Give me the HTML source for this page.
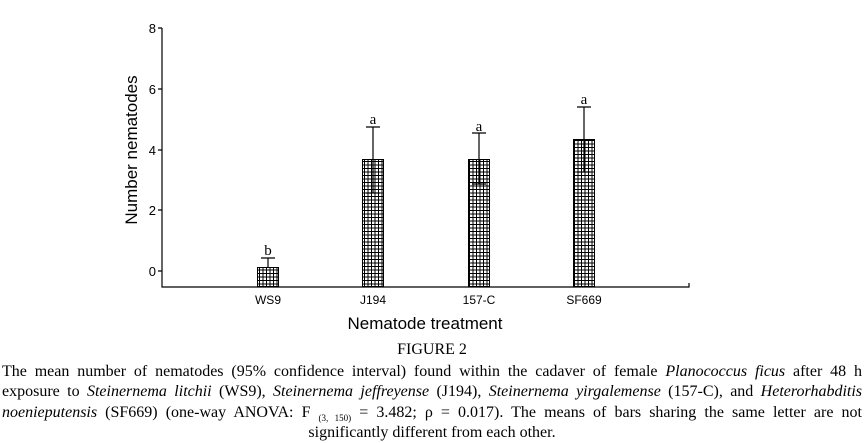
<!DOCTYPE html>
<html><head><style>
body{margin:0;width:866px;height:443px;background:#fff;overflow:hidden;position:relative}
.l{position:absolute;left:2px;width:860px;font-family:"Liberation Serif",serif;font-size:16px;line-height:20px;text-align:justify;text-align-last:justify;white-space:nowrap;color:#000}
.c{text-align:center;text-align-last:center}
</style></head><body>
<svg width="866" height="340" style="position:absolute;left:0;top:0" font-family="Liberation Sans, sans-serif">
<defs><pattern id="p" width="3.5" height="3.5" patternUnits="userSpaceOnUse"><rect width="3.5" height="3.5" fill="#fff"/><path d="M0 0.5H3.5M0.5 0V3.5" stroke="#000" stroke-width="1"/></pattern></defs>
<g stroke="#000" stroke-width="1.2" fill="none">
<path d="M162 28V287H689V283"/>
<path d="M158 28H162M158 89H162M158 150H162M158 210H162M158 271H162"/>
</g>
<g font-size="13" text-anchor="end" fill="#000">
<text x="156" y="33">8</text><text x="156" y="94">6</text><text x="156" y="155">4</text><text x="156" y="215">2</text><text x="156" y="276">0</text>
</g>
<text transform="translate(137,150) rotate(-90)" text-anchor="middle" font-size="17">Number nematodes</text>
<g stroke="#000" stroke-width="1" fill="url(#p)">
<rect x="257.5" y="267.5" width="21" height="19"/>
<rect x="362.5" y="159.5" width="21" height="127"/>
<rect x="468.5" y="159.5" width="21" height="127"/>
<rect x="573.5" y="139.5" width="21" height="147"/>
</g>
<g stroke="#000" stroke-width="1.2" fill="none">
<path d="M268 267V258M261 258H275"/>
<path d="M373 193V127M366 127H380M366 193H380"/>
<path d="M479 184V133M472 133H486M472 184H486"/>
<path d="M584 172V107M577 107H591M577 172H591"/>
</g>
<g font-family="Liberation Serif, serif" font-size="15" text-anchor="middle">
<text x="268" y="255">b</text><text x="373" y="124">a</text><text x="479" y="131">a</text><text x="584" y="104">a</text>
</g>
<g font-size="12" text-anchor="middle">
<text x="268" y="304">WS9</text><text x="373" y="304">J194</text><text x="479" y="304">157-C</text><text x="584" y="304">SF669</text>
</g>
<text x="425" y="329" text-anchor="middle" font-size="17">Nematode treatment</text>
</svg>
<div class="l c" style="top:340px">FIGURE 2</div>
<div class="l" style="top:362px">The mean number of nematodes (95% confidence interval) found within the cadaver of female <i>Planococcus ficus</i> after 48 h</div>
<div class="l" style="top:382px">exposure to <i>Steinernema litchii</i> (WS9), <i>Steinernema jeffreyense</i> (J194), <i>Steinernema yirgalemense</i> (157-C), and <i>Heterorhabditis</i></div>
<div class="l" style="top:403px"><i>noenieputensis</i> (SF669) (one-way ANOVA: F <span style="font-size:9px;vertical-align:-4px">(3, 150)</span> = 3.482; ρ = 0.017). The means of bars sharing the same letter are not</div>
<div class="l c" style="top:423px">significantly different from each other.</div>
</body></html>
